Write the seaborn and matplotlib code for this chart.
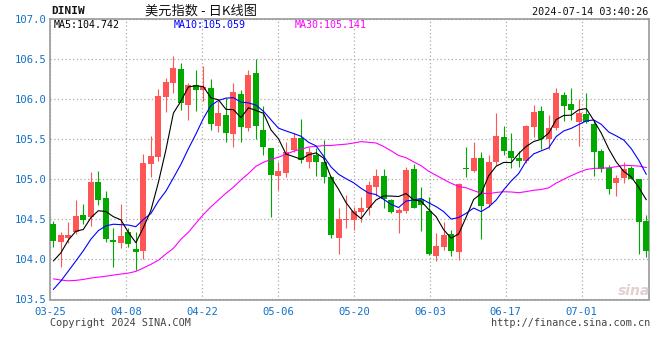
import numpy as np
import matplotlib
matplotlib.use("Agg")
import matplotlib.pyplot as plt
import seaborn as sns

# ---------------- data (DINIW daily, 2024-03-25 .. 2024-07-12) ----------------
open_ = [104.439, 104.219, 104.269, 104.343, 104.555, 104.522, 104.963, 104.763, 104.240, 104.206,
         104.335, 104.127, 104.106, 105.191, 105.270, 106.026, 106.201, 106.367, 105.918, 106.172,
         106.110, 106.135, 105.661, 105.798, 105.561, 106.060, 105.632, 106.322, 105.611, 105.382,
         105.042, 105.079, 105.362, 105.507, 105.216, 105.299, 105.208, 105.021, 104.269, 104.489,
         104.489, 104.589, 104.634, 104.904, 105.037, 104.738, 104.580, 104.601, 105.125, 104.746,
         104.601, 104.040, 104.156, 104.314, 104.094, 105.141, 105.104, 105.266, 104.684, 105.216,
         105.520, 105.349, 105.266, 105.229, 105.652, 105.848, 105.495, 105.632, 106.047, 105.935,
         105.715, 105.810, 105.686, 105.353, 105.133, 104.946, 105.008, 105.141, 104.996, 104.476]
high = [104.476, 104.335, 104.460, 104.738, 104.688, 105.087, 105.100, 104.850, 104.385, 104.688,
        104.385, 104.343, 105.312, 105.536, 106.118, 106.255, 106.534, 106.442, 106.201, 106.359,
        106.409, 106.243, 105.977, 106.006, 106.201, 106.110, 106.359, 106.500, 105.910, 105.390,
        105.208, 105.465, 105.569, 105.744, 105.395, 105.382, 105.486, 105.037, 104.634, 104.801,
        104.655, 104.780, 104.975, 105.121, 105.121, 104.746, 104.634, 105.154, 105.187, 104.904,
        104.780, 104.331, 104.468, 104.372, 104.954, 105.403, 105.465, 105.341, 105.299, 105.827,
        105.661, 105.569, 105.349, 105.673, 105.923, 105.910, 105.798, 106.139, 106.089, 106.139,
        105.993, 106.076, 105.735, 105.370, 105.175, 105.050, 105.208, 105.166, 104.996, 104.551]
low = [104.148, 103.903, 104.206, 104.310, 104.439, 104.422, 104.676, 104.219, 103.907, 104.136,
       104.157, 103.865, 104.003, 105.029, 105.229, 105.840, 106.068, 105.860, 105.735, 105.852,
       105.972, 105.611, 105.590, 105.465, 105.403, 105.465, 105.603, 105.495, 105.299, 104.522,
       104.863, 105.029, 105.341, 105.195, 105.141, 105.037, 104.954, 104.269, 104.073, 104.385,
       104.372, 104.468, 104.551, 104.788, 104.634, 104.572, 104.323, 104.580, 104.634, 104.356,
       104.052, 103.982, 104.115, 104.040, 103.990, 105.029, 105.092, 104.252, 104.655, 105.175,
       105.299, 105.133, 105.146, 105.195, 105.528, 105.370, 105.370, 105.611, 105.727, 105.735,
       105.412, 105.694, 105.037, 105.092, 104.813, 104.792, 104.946, 104.996, 104.073, 104.032]
close = [104.231, 104.302, 104.302, 104.539, 104.489, 104.963, 104.738, 104.252, 104.219, 104.289,
         104.186, 104.094, 105.195, 105.287, 106.035, 106.209, 106.384, 105.943, 106.172, 106.110,
         106.147, 105.686, 105.827, 105.578, 106.089, 105.652, 106.297, 105.661, 105.403, 105.054,
         105.100, 105.341, 105.507, 105.237, 105.332, 105.216, 105.021, 104.302, 104.497, 104.497,
         104.601, 104.643, 104.925, 105.037, 104.746, 104.593, 104.614, 105.112, 104.634, 104.676,
         104.073, 104.165, 104.302, 104.106, 104.938, 105.121, 105.266, 104.668, 105.216, 105.536,
         105.353, 105.258, 105.229, 105.661, 105.840, 105.495, 105.640, 106.076, 105.914, 105.860,
         105.827, 105.715, 105.341, 105.121, 104.875, 105.017, 105.125, 104.996, 104.468, 104.106]

# moving-average values at the start of the window (history before 03-25)
ma5_head = [103.98, 104.08, 104.24, 104.35]
ma10_head = [103.625, 103.729, 103.854, 103.979, 104.108, 104.250, 104.358, 104.417, 104.438]
ma30_head = [103.758, 103.742, 103.733, 103.738, 103.750, 103.767, 103.779, 103.790, 103.804, 103.817,
             103.829, 103.850, 103.893, 103.938, 103.990, 104.067, 104.138, 104.250, 104.338, 104.450,
             104.560, 104.655, 104.740, 104.825, 104.900, 104.990, 105.070, 105.160, 105.210]

tick_labels = ["03-25", "04-08", "04-22", "05-06", "05-20", "06-03", "06-17", "07-01"]
y_ticks = [103.5, 104.0, 104.5, 105.0, 105.5, 106.0, 106.5, 107.0]
legend_texts = ["MA5:104.742", "MA10:105.059", "MA30:105.141"]

# ---------------- derived ----------------
o = np.array(open_); h = np.array(high); l = np.array(low); c = np.array(close)
n = len(c)
xs = np.arange(n)


def moving_avg(values, win, head):
    out = np.convolve(values, np.ones(win) / win, mode="valid")
    return np.concatenate([np.array(head), out])


ma5 = moving_avg(c, 5, ma5_head)
ma10 = moving_avg(c, 10, ma10_head)
ma30 = moving_avg(c, 30, ma30_head)

RED = "#ff5555"
GREEN = "#00a800"
BLUE_LBL = "#1070c8"
GRID = "#aaaaaa"
W, H = 660, 360

sns.set_style("white")
plt.rcParams["font.family"] = ["DejaVu Sans Mono", "DejaVu Sans"]

fig = plt.figure(figsize=(W / 100, H / 100), dpi=100)
fig.patch.set_facecolor("white")
left_px, right_px, top_px, bot_px = 50, 649.3, 18.6, 299.5
ax = fig.add_axes([left_px / W, 1 - bot_px / H, (right_px - left_px) / W, (bot_px - top_px) / H])

x_left, x_right = -0.44, 79.4
ax.set_xlim(x_left, x_right)
ax.set_ylim(103.5, 107.0)

# gridlines
ax.set_yticks(y_ticks)
ax.set_yticklabels([f"{v:.1f}" for v in y_ticks])
xt = x_left + np.arange(len(tick_labels)) * 10.12
ax.set_xticks(xt)
ax.set_xticklabels(tick_labels)
ax.grid(True, color=GRID, linestyle=(0, (1, 2)), linewidth=0.9)
ax.set_axisbelow(True)

ax.tick_params(axis="both", length=0, colors=BLUE_LBL)
ax.tick_params(axis="y", pad=2.5, labelsize=7.6)
ax.tick_params(axis="x", pad=5.5, labelsize=7.6)

for sp in ax.spines.values():
    sp.set_color("#999999")
    sp.set_linewidth(1.2)
    sp.set_visible(True)

# candles
up = c >= o
colors = np.where(up, RED, GREEN)
ax.vlines(xs, l, h, colors=colors, linewidth=0.8, zorder=2)
body_bottom = np.minimum(o, c)
body_h = np.maximum(np.abs(c - o), 0.012)
ax.bar(xs, body_h, bottom=body_bottom, width=0.8, color=colors, linewidth=0, zorder=3)

# moving averages
sns.lineplot(x=xs, y=ma30, color="#ff00ff", linewidth=0.8, ax=ax, zorder=4, estimator=None)
sns.lineplot(x=xs, y=ma10, color="#0000ff", linewidth=0.8, ax=ax, zorder=5, estimator=None)
sns.lineplot(x=xs, y=ma5, color="#000000", linewidth=0.8, ax=ax, zorder=6, estimator=None)
ax.set_xlabel("")
ax.set_ylabel("")


def ftext(x, y, s, **kw):
    fig.text(x / W, 1 - y / H, s, **kw)


# header
ftext(51, 11, "DINIW", fontsize=8, color="#111111", va="center", ha="left",
      family=["DejaVu Sans Mono"], weight="bold")
ftext(201, 11, "美元指数 - 日K线图", fontsize=9.5, color="#111111", va="center", ha="center",
      family=["Noto Sans CJK SC", "DejaVu Sans"])
ftext(648, 12, "2024-07-14 03:40:26", fontsize=7.3, color="#111111", va="center", ha="right")

# MA legend
for xpos, txt, col in zip([54, 174, 294.7], legend_texts, ["#000000", "#0000ff", "#ff00ff"]):
    ftext(xpos, 24.5, txt, fontsize=7.2, color=col, va="center", ha="left")

# footer
ftext(50, 323, "Copyright 2024 SINA.COM", fontsize=7.3, color="#444444", va="center", ha="left")
ftext(650, 323, "http://finance.sina.com.cn", fontsize=7.3, color="#444444", va="center", ha="right")

# watermark
ftext(634, 291, "sina", fontsize=10, color="#e2cfcf", va="center", ha="center",
      family=["DejaVu Sans"], style="italic", weight="bold")

fig.savefig("out.png", dpi=100, facecolor="white")
